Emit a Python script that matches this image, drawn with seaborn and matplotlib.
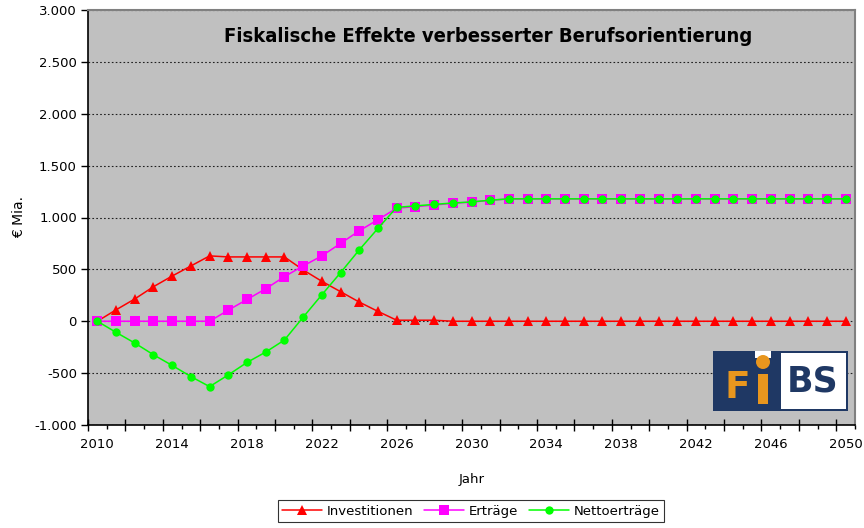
import matplotlib
matplotlib.use("Agg")
import matplotlib.pyplot as plt
import matplotlib.patches as mpatches
from matplotlib.ticker import FuncFormatter, MultipleLocator, FixedLocator, NullFormatter
import pandas as pd
import seaborn as sns

years = list(range(2010, 2051))
investitionen = [0, 110, 215, 333, 436, 533, 630, 620, 620, 620, 620, 495, 385, 285, 185, 95,
                 10, 10, 10] + [0] * 22
ertraege = [0, 0, 0, 0, 0, 0, 0, 107, 210, 313, 430, 533, 630, 750, 872, 979,
            1090, 1105, 1120, 1137, 1148, 1166] + [1179] * 19
netto = [0, -107, -210, -323, -426, -533, -630, -517, -397, -297, -181, 39, 255, 468, 688, 895,
         1098, 1112, 1126, 1140, 1150, 1167] + [1180] * 19
label_years = years[::4]

df = pd.DataFrame({"Jahr": years, "Investitionen": investitionen,
                   "Erträge": ertraege, "Nettoerträge": netto})

sns.set_style("white")
plt.rcParams["font.family"] = ["DejaVu Sans"]
plt.rcParams["text.color"] = "black"
plt.rcParams["axes.labelcolor"] = "black"
plt.rcParams["xtick.color"] = "black"
plt.rcParams["ytick.color"] = "black"

fig = plt.figure(figsize=(8.64, 5.28), dpi=100)
ax = fig.add_axes([88 / 864, 1 - 425 / 528, (855 - 88) / 864, (425 - 10) / 528])
ax.set_facecolor("#C0C0C0")

sns.lineplot(data=df, x="Jahr", y="Investitionen", ax=ax, color="#FF0000", marker="^",
             markersize=7, markeredgewidth=0, linewidth=1.1, label="Investitionen")
sns.lineplot(data=df, x="Jahr", y="Erträge", ax=ax, color="#FF00FF", marker="s",
             markersize=6.5, markeredgewidth=0, linewidth=1.1, label="Erträge")
sns.lineplot(data=df, x="Jahr", y="Nettoerträge", ax=ax, color="#00FF00", marker="o",
             markersize=6, markeredgewidth=0, linewidth=1.1, label="Nettoerträge")

ax.set_xlim(years[0] - 0.5, years[-1] + 0.5)
ax.set_ylim(-1000, 3000)

# year labels at category centres, no tick mark there
ax.set_xticks(label_years)
ax.tick_params(axis="x", which="major", bottom=True, length=0, labelsize=9.5, pad=9)
# tick marks on category boundaries: long every 2nd, short in between
ax.xaxis.set_minor_locator(FixedLocator([y - 0.5 for y in years[::2]]))
ax.xaxis.set_minor_formatter(NullFormatter())
ax.tick_params(axis="x", which="minor", bottom=True, direction="inout", length=8, width=1)
sec = ax.secondary_xaxis("bottom")
sec.set_xticks([y + 0.5 for y in years[::2]])
sec.set_xticklabels([])
sec.tick_params(axis="x", direction="out", length=3, width=1)
sec.spines["bottom"].set_visible(False)

ax.yaxis.set_major_locator(MultipleLocator(500))
ax.yaxis.set_major_formatter(FuncFormatter(lambda v, p: f"{int(v):,}".replace(",", ".")))
ax.grid(axis="y", color="#202020", linestyle=(0, (1.5, 2)), linewidth=0.8)
ax.set_axisbelow(True)
ax.tick_params(axis="y", left=True, length=5, width=1, labelsize=9.5, pad=3)

for side in ["top", "right"]:
    ax.spines[side].set_color("#808080")
    ax.spines[side].set_linewidth(1.5)
for side in ["left", "bottom"]:
    ax.spines[side].set_color("black")
    ax.spines[side].set_linewidth(1.2)

ax.set_xlabel("Jahr", fontsize=9.5, labelpad=16)
ax.set_ylabel("€ Mia.", fontsize=10, labelpad=6)

ax.text((488 - 88) / 767, 0.937, "Fiskalische Effekte verbesserter Berufsorientierung",
        transform=ax.transAxes, ha="center", va="center", fontsize=14.5,
        fontweight="bold", fontstretch="condensed", color="black",
        family=["DejaVu Sans Condensed", "DejaVu Sans"])

leg = ax.legend(loc="upper center", bbox_to_anchor=(471 / 864, 1 - 500 / 528),
                bbox_transform=fig.transFigure, ncol=3, frameon=True, fancybox=False,
                fontsize=9.5, handlelength=3.0, columnspacing=0.8, handletextpad=0.4,
                borderpad=0.35, borderaxespad=0)
leg.get_frame().set_edgecolor("black")
leg.get_frame().set_linewidth(0.8)

# FiBS logo
def fx(px):
    return px / 864

def fy(py):
    return 1 - py / 528

fig.patches.append(mpatches.Rectangle((fx(713), fy(411)), fx(848) - fx(713), fy(351) - fy(411),
                                      transform=fig.transFigure, facecolor="#1F3864",
                                      edgecolor="none", zorder=5))
fig.patches.append(mpatches.Rectangle((fx(781), fy(409)), fx(846) - fx(781), fy(353) - fy(409),
                                      transform=fig.transFigure, facecolor="white",
                                      edgecolor="none", zorder=6))
fig.patches.append(mpatches.Rectangle((fx(755), fy(358)), fx(771) - fx(755), fy(351) - fy(358),
                                      transform=fig.transFigure, facecolor="white",
                                      edgecolor="none", zorder=6))
fig.patches.append(mpatches.Ellipse((fx(763), fy(362)), 14 / 864, 14 / 528,
                                    transform=fig.transFigure, facecolor="#E8961E",
                                    edgecolor="none", zorder=7))
fig.text(fx(725), fy(388), "F", color="#E8961E", fontsize=27, fontweight="bold",
         ha="left", va="center", family=["DejaVu Sans"], zorder=8)
fig.patches.append(mpatches.Rectangle((fx(758), fy(404)), 10 / 864, 30 / 528,
                                      transform=fig.transFigure, facecolor="#E8961E",
                                      edgecolor="none", zorder=7))
fig.text(fx(813), fy(382), "BS", color="#1F3864", fontsize=25, fontweight="bold",
         ha="center", va="center", family=["DejaVu Sans"], zorder=8)

fig.savefig("out.png", dpi=100)
